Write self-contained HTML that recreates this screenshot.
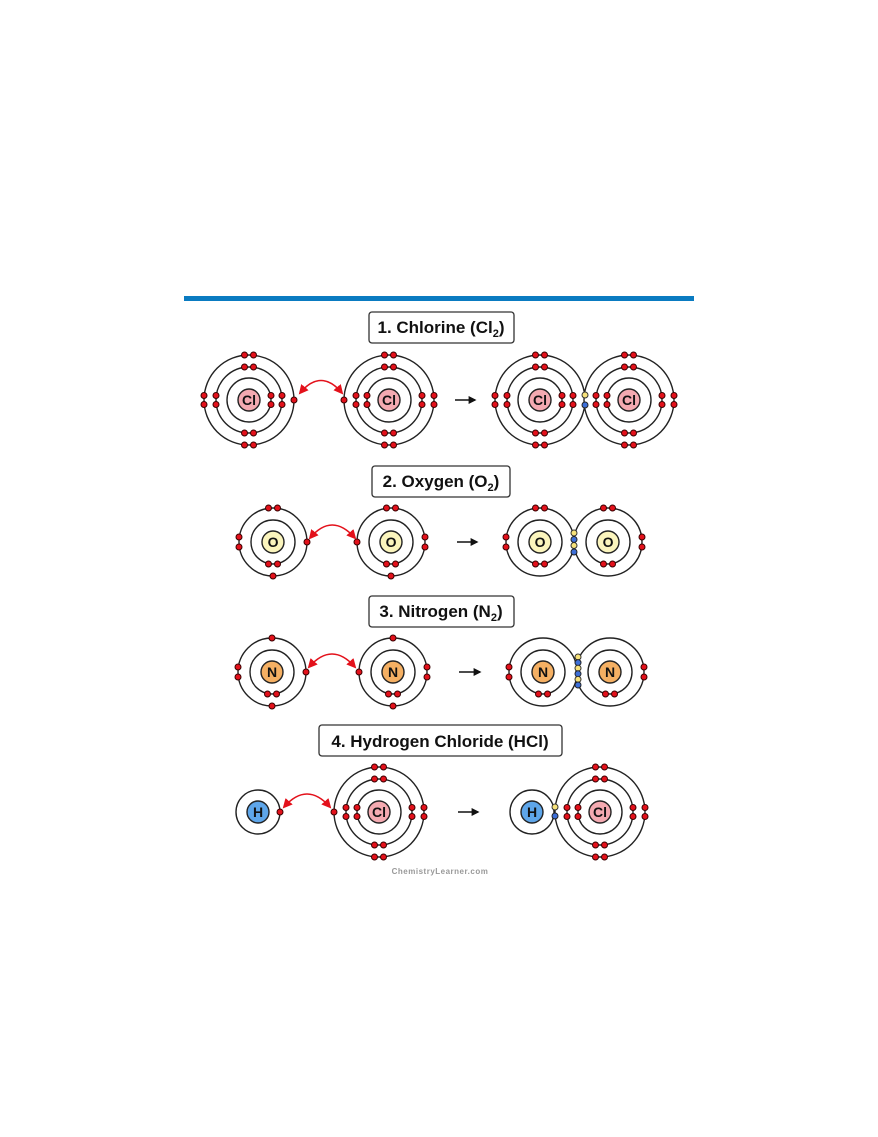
<!DOCTYPE html>
<html><head><meta charset="utf-8"><style>
html,body{margin:0;padding:0;background:#fff;}
svg{display:block;}
text{font-family:"Liberation Sans",sans-serif;}
</style></head><body>
<svg width="878" height="1137" viewBox="0 0 878 1137" xmlns="http://www.w3.org/2000/svg">
<defs>
<circle id="e" r="3" fill="#e3111b" stroke="#3a0000" stroke-width="1"/>
<circle id="ey" r="3" fill="#f7e27a" stroke="#333" stroke-width="1"/>
<circle id="eb" r="3" fill="#3d6fd8" stroke="#222" stroke-width="1"/>
<marker id="ra" viewBox="0 0 10 10" refX="8" refY="5" markerWidth="6" markerHeight="6" orient="auto-start-reverse"><path d="M0,0 L10,5 L0,10 z" fill="#e3111b"/></marker>
<marker id="ka" viewBox="0 0 10 10" refX="8" refY="5" markerWidth="5" markerHeight="5" orient="auto"><path d="M0,0 L10,5 L0,10 z" fill="#111"/></marker>
<g id="clbase" fill="none" stroke="#222" stroke-width="1.4">
<circle r="45" fill="#fff"/><circle r="33"/><circle r="22"/><circle r="11" fill="#f4aab1"/>
<use href="#e" x="-4.5" y="-45"/><use href="#e" x="4.5" y="-45"/>
<use href="#e" x="-4.5" y="-33"/><use href="#e" x="4.5" y="-33"/>
<use href="#e" x="-4.5" y="45"/><use href="#e" x="4.5" y="45"/>
<use href="#e" x="-4.5" y="33"/><use href="#e" x="4.5" y="33"/>
<text x="0" y="5" text-anchor="middle" font-size="14" font-weight="bold" fill="#111" stroke="none">Cl</text>
</g>
<g id="clA"><use href="#clbase"/>
<use href="#e" x="-45" y="-4.5"/><use href="#e" x="-45" y="4.5"/>
<use href="#e" x="-33" y="-4.5"/><use href="#e" x="-33" y="4.5"/>
<use href="#e" x="22" y="-4.5"/><use href="#e" x="22" y="4.5"/>
<use href="#e" x="33" y="-4.5"/><use href="#e" x="33" y="4.5"/>
</g>
<g id="clB"><use href="#clbase"/>
<use href="#e" x="45" y="-4.5"/><use href="#e" x="45" y="4.5"/>
<use href="#e" x="33" y="-4.5"/><use href="#e" x="33" y="4.5"/>
<use href="#e" x="-22" y="-4.5"/><use href="#e" x="-22" y="4.5"/>
<use href="#e" x="-33" y="-4.5"/><use href="#e" x="-33" y="4.5"/>
</g>
<g id="obase" fill="none" stroke="#222" stroke-width="1.4">
<circle r="34" fill="#fff"/><circle r="22"/><circle r="11" fill="#fbf5bd"/>
<use href="#e" x="-4.5" y="-34"/><use href="#e" x="4.5" y="-34"/>
<use href="#e" x="-4.5" y="22"/><use href="#e" x="4.5" y="22"/>
<text x="0" y="5" text-anchor="middle" font-size="14" font-weight="bold" fill="#111" stroke="none">O</text>
</g>
<g id="nbase" fill="none" stroke="#222" stroke-width="1.4">
<circle r="34" fill="#fff"/><circle r="22"/><circle r="11" fill="#f5b063"/>
<use href="#e" x="-4.5" y="22"/><use href="#e" x="4.5" y="22"/>
<text x="0" y="5" text-anchor="middle" font-size="14" font-weight="bold" fill="#111" stroke="none">N</text>
</g>
<g id="hbase" fill="none" stroke="#222" stroke-width="1.4">
<circle r="22" fill="#fff"/><circle r="11" fill="#5ea6ea"/>
<text x="0" y="5" text-anchor="middle" font-size="14" font-weight="bold" fill="#111" stroke="none">H</text>
</g>
</defs>

<rect x="184" y="296" width="510" height="5" fill="#0a7bc1"/>

<!-- titles -->
<g fill="#fff" stroke="#333" stroke-width="1.3">
<rect x="369" y="312" width="145" height="31" rx="3"/>
<rect x="372" y="466" width="138" height="31" rx="3"/>
<rect x="369" y="596" width="145" height="31" rx="3"/>
<rect x="319" y="725" width="243" height="31" rx="3"/>
</g>
<g font-size="17" font-weight="bold" fill="#111">
<text x="441" y="333" text-anchor="middle">1. Chlorine (Cl<tspan font-size="11" dy="4">2</tspan><tspan dy="-4">)</tspan></text>
<text x="441" y="487" text-anchor="middle">2. Oxygen (O<tspan font-size="11" dy="4">2</tspan><tspan dy="-4">)</tspan></text>
<text x="441" y="617" text-anchor="middle">3. Nitrogen (N<tspan font-size="11" dy="4">2</tspan><tspan dy="-4">)</tspan></text>
<text x="440" y="747" text-anchor="middle">4. Hydrogen Chloride (HCl)</text>
</g>

<!-- Row 1 Chlorine -->
<g transform="translate(249,400)"><use href="#clA"/><use href="#e" x="45" y="0"/></g>
<g transform="translate(389,400)"><use href="#clB"/><use href="#e" x="-45" y="0"/></g>
<g transform="translate(540,400)"><use href="#clA"/></g>
<g transform="translate(629,400)"><use href="#clB"/></g>
<use href="#ey" x="585" y="395"/><use href="#eb" x="585" y="405"/>

<!-- Row 2 Oxygen -->
<g transform="translate(273,542)"><use href="#obase"/>
<use href="#e" x="-34" y="-5"/><use href="#e" x="-34" y="5"/><use href="#e" x="34" y="0"/><use href="#e" x="0" y="34"/></g>
<g transform="translate(391,542)"><use href="#obase"/>
<use href="#e" x="34" y="-5"/><use href="#e" x="34" y="5"/><use href="#e" x="-34" y="0"/><use href="#e" x="0" y="34"/></g>
<g transform="translate(540,542)"><use href="#obase"/>
<use href="#e" x="-34" y="-5"/><use href="#e" x="-34" y="5"/></g>
<g transform="translate(608,542)"><use href="#obase"/>
<use href="#e" x="34" y="-5"/><use href="#e" x="34" y="5"/></g>
<use href="#ey" x="574" y="533"/><use href="#eb" x="574" y="539.5"/><use href="#ey" x="574" y="545.5"/><use href="#eb" x="574" y="552"/>

<!-- Row 3 Nitrogen -->
<g transform="translate(272,672)"><use href="#nbase"/>
<use href="#e" x="-34" y="-5"/><use href="#e" x="-34" y="5"/><use href="#e" x="34" y="0"/><use href="#e" x="0" y="-34"/><use href="#e" x="0" y="34"/></g>
<g transform="translate(393,672)"><use href="#nbase"/>
<use href="#e" x="34" y="-5"/><use href="#e" x="34" y="5"/><use href="#e" x="-34" y="0"/><use href="#e" x="0" y="-34"/><use href="#e" x="0" y="34"/></g>
<g transform="translate(543,672)"><use href="#nbase"/>
<use href="#e" x="-34" y="-5"/><use href="#e" x="-34" y="5"/></g>
<g transform="translate(610,672)"><use href="#nbase"/>
<use href="#e" x="34" y="-5"/><use href="#e" x="34" y="5"/></g>
<use href="#ey" x="578" y="657"/><use href="#eb" x="578" y="662.6"/><use href="#ey" x="578" y="668.2"/><use href="#eb" x="578" y="673.8"/><use href="#ey" x="578" y="679.4"/><use href="#eb" x="578" y="685"/>

<!-- Row 4 HCl -->
<g transform="translate(258,812)"><use href="#hbase"/><use href="#e" x="22" y="0"/></g>
<g transform="translate(379,812)"><use href="#clB"/><use href="#e" x="-45" y="0"/></g>
<g transform="translate(532,812)"><use href="#hbase"/></g>
<g transform="translate(600,812)"><use href="#clB"/></g>
<use href="#ey" x="555" y="807"/><use href="#eb" x="555" y="816"/>

<!-- red arrows -->
<g fill="none" stroke="#e3111b" stroke-width="1.6" marker-start="url(#ra)" marker-end="url(#ra)">
<path d="M300,393 Q321,368 342,393"/>
<path d="M310,538 Q332,512 355,538"/>
<path d="M309,667 Q332,641 355,667"/>
<path d="M284,807 Q307,781 330,807"/>
</g>
<!-- black arrows -->
<g stroke="#111" stroke-width="1.6" marker-end="url(#ka)">
<line x1="455" y1="400" x2="475" y2="400"/>
<line x1="457" y1="542" x2="477" y2="542"/>
<line x1="459" y1="672" x2="480" y2="672"/>
<line x1="458" y1="812" x2="478" y2="812"/>
</g>

<text x="440" y="874" text-anchor="middle" font-size="8" font-weight="bold" fill="#999" letter-spacing="0.5">ChemistryLearner.com</text>
</svg>
</body></html>
